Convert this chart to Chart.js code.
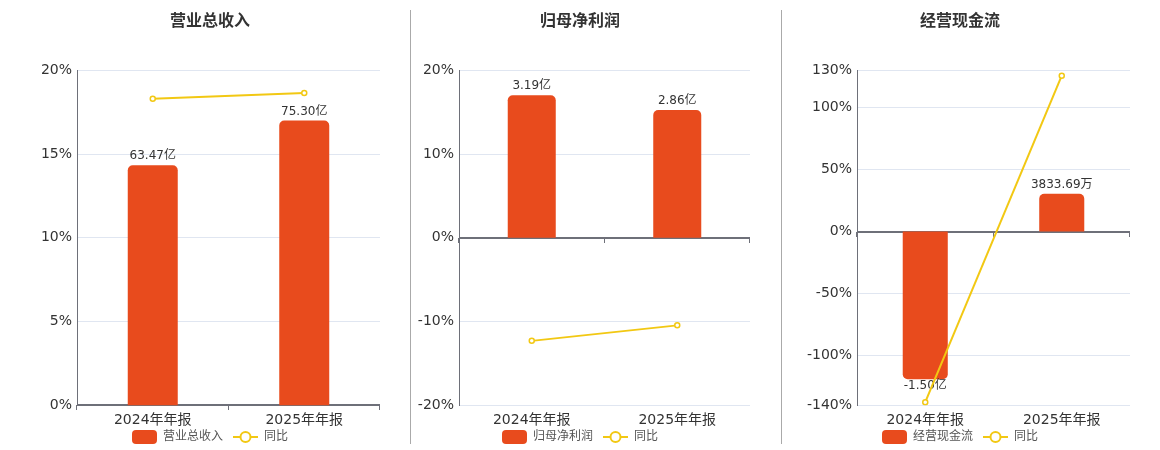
<!DOCTYPE html>
<html>
<head>
<meta charset="utf-8">
<script src="https://cdn.jsdelivr.net/npm/chart.js@4.4.0/dist/chart.umd.min.js"></script>
<style>
  body { margin: 0; width: 1160px; height: 450px; overflow: hidden; background: #fff; }
  .panel { position: absolute; top: 0; }
  .sep { position: absolute; top: 10px; width: 1px; height: 434px; background: #aaa; }
</style>
</head>
<body>
<canvas id="c1" class="panel" width="340" height="453" style="left:40px"></canvas>
<canvas id="c2" class="panel" width="340" height="453" style="left:410px"></canvas>
<canvas id="c3" class="panel" width="340" height="453" style="left:790px"></canvas>
<div class="sep" style="left:410px"></div>
<div class="sep" style="left:781px"></div>
<script>
// categorias
var periods = ["2024年年报", "2025年年报"];

// valores en 亿 y crecimiento (%)
var revenueValues = [63.47, 75.30];
var revenueGrowth = [18.3, 18.64];
var profitValues = [3.19, 2.86];
var profitGrowth = [-12.3, -10.45];
var cashValues = [-1.50, 0.383369];
var cashGrowth = [-137.4, 125.6];

// ticks del eje izquierdo
var revenueTicks = [0, 5, 10, 15, 20];
var profitTicks = [-20, -10, 0, 10, 20];
var cashTicks = [-140, -100, -50, 0, 50, 100, 130];

var barColor = "#E84B1D";
var lineColor = "#F2C813";
var fontFamily = "'DejaVu Sans', 'Noto Sans CJK SC', sans-serif";

function formatMoney(v) {
	if (Math.abs(v) < 1) {
		return (v * 10000).toFixed(2) + "万";
	}
	return v.toFixed(2) + "亿";
}

// iconos de la leyenda
function barIcon() {
	var c = document.createElement("canvas");
	c.width = 25; c.height = 14;
	var ctx = c.getContext("2d");
	ctx.fillStyle = barColor;
	ctx.beginPath();
	ctx.roundRect(0, 0, 25, 14, 4);
	ctx.fill();
	return c;
}
function lineIcon() {
	var c = document.createElement("canvas");
	c.width = 25; c.height = 14;
	var ctx = c.getContext("2d");
	ctx.strokeStyle = lineColor;
	ctx.lineWidth = 2;
	ctx.beginPath();
	ctx.moveTo(0, 7); ctx.lineTo(25, 7);
	ctx.stroke();
	ctx.fillStyle = "#fff";
	ctx.beginPath();
	ctx.arc(12.5, 7, 5, 0, Math.PI * 2);
	ctx.fill();
	ctx.stroke();
	return c;
}

// linea del cero y marcas de categoria
var zeroAxis = {
	id: "zeroAxis",
	beforeDatasetsDraw: function(chart) {
		var ctx = chart.ctx;
		var x = chart.scales.x;
		var y0 = Math.round(chart.scales.y.getPixelForValue(0));
		ctx.save();
		ctx.strokeStyle = "#6E7079";
		ctx.lineWidth = 2;
		ctx.beginPath();
		ctx.moveTo(x.left, y0); ctx.lineTo(x.right, y0);
		ctx.stroke();
		ctx.lineWidth = 1;
		var n = periods.length;
		for (var i = 0; i <= n; i++) {
			var px = Math.round(x.left + i * (x.right - x.left) / n) - 0.5;
			if (i == n) px = x.right - 0.5;
			ctx.beginPath();
			ctx.moveTo(px, y0); ctx.lineTo(px, y0 + 5);
			ctx.stroke();
		}
		ctx.restore();
	}
};

// etiquetas sobre las barras
var barLabels = {
	id: "barLabels",
	afterDatasetDraw: function(chart, args) {
		if (args.index != 0) return;
		var ctx = chart.ctx;
		var values = chart.data.datasets[0].data;
		ctx.save();
		ctx.font = "12px " + fontFamily;
		ctx.fillStyle = "#333";
		ctx.textAlign = "center";
		args.meta.data.forEach(function(bar, i) {
			if (values[i] >= 0) {
				ctx.textBaseline = "bottom";
				ctx.fillText(formatMoney(values[i]), bar.x, bar.y - 3);
			} else {
				ctx.textBaseline = "top";
				ctx.fillText(formatMoney(values[i]), bar.x, bar.y + 1);
			}
		});
		ctx.restore();
	}
};

function makeChart(id, title, values, growth, ticks, axisWidth) {
	var lo = ticks[0], hi = ticks[ticks.length - 1];
	// escala de las barras alineada con el cero del eje izquierdo
	var f = 0;
	for (var i = 0; i < values.length; i++) {
		var side = values[i] >= 0 ? hi : lo;
		f = Math.max(f, values[i] / (0.85 * side));
	}
	var icons = [barIcon(), lineIcon()];
	return new Chart(document.getElementById(id), {
		type: "bar",
		data: {
			labels: periods,
			datasets: [{
				type: "bar",
				label: title,
				data: values,
				yAxisID: "y1",
				backgroundColor: barColor,
				borderRadius: 5,
				borderSkipped: "start",
				barPercentage: 0.33,
				categoryPercentage: 1,
				order: 1,
			},
			{
				type: "line",
				label: "同比",
				data: growth,
				yAxisID: "y",
				borderColor: lineColor,
				borderWidth: 2,
				pointRadius: 2.5,
				pointBorderWidth: 1.5,
				pointBackgroundColor: "#fff",
				pointBorderColor: lineColor,
				order: 0,
			}]
		},
		options: {
			responsive: false,
			animation: false,
			devicePixelRatio: 1,
			layout: { padding: 0, autoPadding: false },
			plugins: {
				title: {
					display: true,
					text: title,
					color: "#333",
					font: { family: fontFamily, size: 16, weight: "bold" },
					padding: { top: 12, bottom: 39 },
				},
				legend: {
					position: "bottom",
					labels: {
						usePointStyle: true,
						pointStyleWidth: 25,
						boxHeight: 14,
						padding: 10,
						color: "#555",
						font: { family: fontFamily, size: 12 },
						sort: function(a, b) { return a.datasetIndex - b.datasetIndex; },
						generateLabels: function(chart) {
							return chart.data.datasets.map(function(ds, i) {
								return { text: ds.label, pointStyle: icons[i], datasetIndex: i, fontColor: "#555", lineWidth: 0 };
							});
						}
					}
				},
				tooltip: { enabled: false },
			},
			scales: {
				x: {
					grid: { display: false, drawTicks: false },
					border: { display: false },
					ticks: { color: "#333", padding: 7, font: { family: fontFamily, size: 14 } },
					afterFit: function(scale) {
						scale.height = 15.6;
						// sin recorte de las etiquetas
						scale._computeLabelArea = function() { return undefined; };
					},
				},
				y: {
					min: lo,
					max: hi,
					afterBuildTicks: function(scale) {
						scale.ticks = ticks.map(function(v) { return { value: v }; });
					},
					grid: {
						drawTicks: false,
						color: function(c) { return c.tick && c.tick.value == 0 ? "rgba(0,0,0,0)" : "#E0E6F1"; },
					},
					border: { display: true, color: "#6E7079" },
					ticks: {
						autoSkip: false,
						color: "#333",
						padding: 5,
						font: { family: fontFamily, size: 14 },
						callback: function(v) { return v + "%"; },
					},
					afterFit: function(scale) { scale.width = axisWidth; },
				},
				y1: {
					display: false,
					min: lo * f,
					max: hi * f,
				}
			}
		},
		plugins: [zeroAxis, barLabels]
	});
}

makeChart("c1", "营业总收入", revenueValues, revenueGrowth, revenueTicks, 37);
makeChart("c2", "归母净利润", profitValues, profitGrowth, profitTicks, 49);
makeChart("c3", "经营现金流", cashValues, cashGrowth, cashTicks, 67);
</script>
</body>
</html>
